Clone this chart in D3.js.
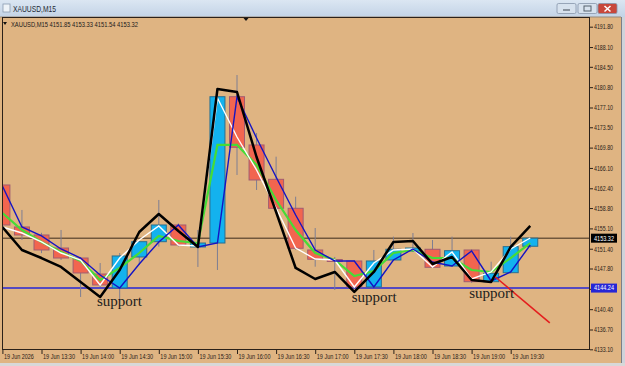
<!DOCTYPE html>
<html>
<head>
<meta charset="utf-8">
<script src="https://cdn.jsdelivr.net/npm/d3@7"></script>
<style>
  body { margin: 0; background: #cfd3da; }
  svg { display: block; }
  text { font-family: "Liberation Sans", Arial, sans-serif; }
  text.note { font-family: "Liberation Serif", "DejaVu Serif", serif; }
</style>
</head>
<body>
<svg id="chart" width="625" height="366"></svg>
<script>
// 15 minute bars, 19 Jun 2026
const times = ["13:00","13:15","13:30","13:45","14:00","14:15","14:30","14:45","15:00","15:15",
  "15:30","15:45","16:00","16:15","16:30","16:45","17:00","17:15","17:30","17:45",
  "18:00","18:15","18:30","18:45","19:00","19:15","19:30","19:45"];

const opens  = [4163.0, 4155.36, 4153.9, 4151.53, 4149.71, 4146.8, 4144.26, 4149.9, 4152.68, 4155.72,
  4151.72, 4152.44, 4179.06, 4170.28, 4164.03, 4158.76, 4151.17, 4149.44, 4149.17, 4144.44,
  4149.35, 4150.99, 4151.3, 4148.26, 4151.17, 4145.4, 4147.04, 4151.85];
const highs  = [4163.3, 4158.45, 4154.3, 4154.81, 4149.9, 4148.8, 4150.62, 4152.8, 4160.27, 4156.0,
  4154.81, 4179.3, 4183.01, 4172.46, 4168.15, 4160.87, 4155.17, 4149.9, 4149.3, 4151.17,
  4153.6, 4154.26, 4152.99, 4153.6, 4151.3, 4149.04, 4153.6, 4153.33];
const lows   = [4155.2, 4152.99, 4150.6, 4149.35, 4142.62, 4144.44, 4141.89, 4148.44, 4151.78, 4151.8,
  4148.08, 4147.53, 4164.82, 4162.09, 4158.5, 4151.2, 4148.13, 4143.89, 4144.2, 4144.3,
  4149.2, 4150.8, 4147.9, 4148.1, 4145.2, 4145.2, 4146.9, 4151.54];
const closes = [4155.72, 4153.9, 4151.17, 4149.71, 4146.99, 4144.8, 4150.08, 4152.68, 4155.72, 4152.08,
  4152.44, 4179.06, 4169.86, 4163.91, 4158.76, 4151.48, 4149.48, 4149.08, 4144.44, 4149.17,
  4151.3, 4151.53, 4148.02, 4151.04, 4145.4, 4146.93, 4151.78, 4153.32];

// indicator lines
const blackLine = [4155.36, 4151.17, 4149.71, 4148.08, 4145.35, 4142.62, 4147.53, 4154.45, 4157.72, 4154.63,
  4151.72, 4180.46, 4179.92, 4168.09, 4158.08, 4147.9, 4145.89, 4147.17, 4143.53, 4147.17,
  4152.63, 4152.81, 4148.62, 4149.9, 4145.71, 4145.35, 4151.72, 4155.54];
const blueLine = [4162.82, 4155.36, 4153.72, 4151.35, 4149.71, 4146.62, 4144.26, 4148.62, 4152.63, 4155.72,
  4151.72, 4152.44, 4179.01, 4171.55, 4164.45, 4157.54, 4151.17, 4149.17, 4149.17, 4144.44,
  4149.35, 4151.35, 4148.99, 4148.26, 4150.99, 4145.53, 4147.17, 4152.08];
const whiteLine = [4155.36, 4154.26, 4152.63, 4150.62, 4149.35, 4144.8, 4149.71, 4152.99, 4155.54, 4152.08,
  4151.9, 4178.83, 4171.73, 4165.73, 4158.81, 4151.53, 4149.53, 4149.35, 4144.44, 4148.8,
  4151.17, 4151.35, 4148.08, 4150.81, 4145.89, 4147.17, 4151.35, 4153.35];
const greenLine = [4157.9, 4154.81, 4152.63, 4150.81, 4149.17, 4145.71, 4147.9, 4150.62, 4153.72, 4152.81,
  4152.44, 4170.28, 4170.28, 4166.64, 4160.27, 4154.81, 4150.62, 4149.35, 4146.44, 4147.35,
  4150.62, 4151.17, 4149.71, 4149.71, 4147.53, 4147.17, 4149.71, 4152.44];

const priceTicks = [4191.80, 4188.10, 4184.50, 4180.80, 4177.10, 4173.50, 4169.80, 4166.10, 4162.40,
  4158.80, 4155.10, 4151.40, 4147.80, 4144.10, 4140.40, 4136.70, 4133.10];
const labelBars = [0, 2, 4, 6, 8, 10, 12, 14, 16, 18, 20, 22, 24, 26];
const labelTexts = ["19 Jun 2026", "19 Jun 13:30", "19 Jun 14:00", "19 Jun 14:30", "19 Jun 15:00",
  "19 Jun 15:30", "19 Jun 16:00", "19 Jun 16:30", "19 Jun 17:00", "19 Jun 17:30", "19 Jun 18:00",
  "19 Jun 18:30", "19 Jun 19:00", "19 Jun 19:30"];

const bidPrice = 4153.32;
const supportLevel = 4144.24;
const trendBars = [25.2, 28.0];
const trendPrices = [4146.3, 4137.9];
const supportBars = [4.84, 17.87, 23.88];
const supportPrices = [4140.89, 4141.62, 4142.35];

const W = 625, H = 366;
const plot = { left: 2, right: 590, top: 18, bottom: 350 };
const svg = d3.select("#chart");

const x = d3.scaleLinear().domain([0, times.length - 1]).range([2.4, 2.4 + 19.55 * (times.length - 1)]);
const y = d3.scaleLinear().domain([4133.10, 4191.80]).range([349.3, 26.7]);
const bodyW = 15;

// window frame
svg.append("rect").attr("width", W).attr("height", H).attr("fill", "#cfd3da");
const grad = svg.append("defs").append("linearGradient").attr("id", "tb").attr("x1", 0).attr("x2", 0).attr("y1", 0).attr("y2", 1);
grad.append("stop").attr("offset", "0%").attr("stop-color", "#dbe6f2");
grad.append("stop").attr("offset", "100%").attr("stop-color", "#c3d3e6");
svg.append("rect").attr("width", W).attr("height", 17).attr("fill", "url(#tb)");
svg.append("rect").attr("x", 3).attr("y", 4).attr("width", 7).attr("height", 8)
  .attr("fill", "#eef3f8").attr("stroke", "#8a9bb0").attr("stroke-width", 0.8);
svg.append("text").attr("x", 13).attr("y", 12).attr("font-size", 8.5).attr("fill", "#1e2a36")
  .attr("textLength", 43).attr("lengthAdjust", "spacingAndGlyphs").text("XAUUSD,M15");

// title bar buttons
[[557, "#d7e2ee"], [578, "#d7e2ee"], [598, "#c8473b"]].forEach(([bx, c]) => {
  svg.append("rect").attr("x", bx).attr("y", 3.5).attr("width", 19).attr("height", 10).attr("rx", 1.5)
    .attr("fill", c).attr("stroke", "#8696aa").attr("stroke-width", 0.8);
});
svg.append("line").attr("x1", 563).attr("x2", 570).attr("y1", 10).attr("y2", 10).attr("stroke", "#55606c").attr("stroke-width", 1.2);
svg.append("rect").attr("x", 584).attr("y", 6).attr("width", 7).attr("height", 5).attr("fill", "none").attr("stroke", "#55606c").attr("stroke-width", 1);
svg.append("path").attr("d", "M604.5,6 L610.5,11.5 M610.5,6 L604.5,11.5").attr("stroke", "#fff").attr("stroke-width", 1.5);

// chart background
svg.append("rect").attr("x", 0).attr("y", 17).attr("width", 621).attr("height", 346).attr("fill", "#dfb482");
svg.append("line").attr("x1", 0).attr("x2", 621).attr("y1", 17).attr("y2", 17).attr("stroke", "#9a8a78");
svg.append("line").attr("x1", 621.5).attr("x2", 621.5).attr("y1", 17).attr("y2", 363).attr("stroke", "#7a7f88");

svg.append("defs").append("clipPath").attr("id", "clip").append("rect")
  .attr("x", plot.left).attr("y", plot.top).attr("width", plot.right - plot.left).attr("height", plot.bottom - plot.top);
const g = svg.append("g").attr("clip-path", "url(#clip)");

// horizontal levels
g.append("line").attr("x1", plot.left).attr("x2", plot.right).attr("y1", y(bidPrice)).attr("y2", y(bidPrice))
  .attr("stroke", "#3b2a1c").attr("stroke-width", 1);
g.append("line").attr("x1", plot.left).attr("x2", plot.right).attr("y1", y(supportLevel)).attr("y2", y(supportLevel))
  .attr("stroke", "#2626d6").attr("stroke-width", 1.5);

// candles
const bars = d3.range(times.length);
g.selectAll(".wick").data(bars).join("line").attr("class", "wick")
  .attr("x1", i => x(i)).attr("x2", i => x(i))
  .attr("y1", i => y(highs[i])).attr("y2", i => y(lows[i]))
  .attr("stroke", "#7e7e92").attr("stroke-width", 1);
g.selectAll(".body").data(bars).join("rect").attr("class", "body")
  .attr("x", i => x(i) - bodyW / 2).attr("width", bodyW)
  .attr("y", i => y(Math.max(opens[i], closes[i])))
  .attr("height", i => Math.max(1, Math.abs(y(opens[i]) - y(closes[i]))))
  .attr("fill", i => closes[i] >= opens[i] ? "#13b2ee" : "#f2654f")
  .attr("stroke", i => closes[i] >= opens[i] ? "#2a6e8e" : "#a05c72")
  .attr("stroke-width", 1);

// indicator lines
const line = d3.line().x((d, i) => x(i)).y(d => y(d));
g.append("path").datum(greenLine).attr("d", line).attr("fill", "none").attr("stroke", "#46dc36").attr("stroke-width", 2.2);
g.append("path").datum(whiteLine).attr("d", line).attr("fill", "none").attr("stroke", "#ffffff").attr("stroke-width", 1.4);
g.append("path").datum(blueLine).attr("d", line).attr("fill", "none").attr("stroke", "#1414c4").attr("stroke-width", 1.4);
g.append("path").datum(blackLine).attr("d", line).attr("fill", "none").attr("stroke", "#000").attr("stroke-width", 2.5)
  .attr("stroke-linejoin", "round");

// red trend line
g.append("line").attr("x1", x(trendBars[0])).attr("y1", y(trendPrices[0]))
  .attr("x2", x(trendBars[1])).attr("y2", y(trendPrices[1]))
  .attr("stroke", "#e41e1e").attr("stroke-width", 1.5);

// support labels
supportBars.forEach((b, k) => {
  g.append("text").attr("class", "note").attr("x", x(b)).attr("y", y(supportPrices[k]))
    .attr("font-size", 15).attr("fill", "#1c1c1c").text("support");
});

// plot border
svg.append("rect").attr("x", plot.left + 0.5).attr("y", plot.top - 0.5).attr("width", plot.right - plot.left - 1)
  .attr("height", plot.bottom - plot.top).attr("fill", "none").attr("stroke", "#2b2119").attr("stroke-width", 1);

// header line
svg.append("path").attr("d", "M3,22 L7,22 L5,25 Z").attr("fill", "#111");
svg.append("path").attr("d", "M243.5,18 L248.5,18 L246,21 Z").attr("fill", "#111");
svg.append("text").attr("x", 11).attr("y", 26.5).attr("font-size", 7.5).attr("fill", "#1a1a1a")
  .attr("textLength", 127).attr("lengthAdjust", "spacingAndGlyphs")
  .text("XAUUSD,M15  4151.85 4153.33 4151.54 4153.32");

// price axis
const gy = svg.append("g").attr("transform", `translate(${plot.right},0)`)
  .call(d3.axisRight(y).tickValues(priceTicks).tickSize(3).tickPadding(1).tickFormat(d3.format(".2f")));
gy.select(".domain").remove();
gy.selectAll("line").attr("stroke", "#2b2119");
gy.selectAll("text").attr("font-size", 6.5).attr("fill", "#2a2118").attr("dy", "0.35em")
  .attr("font-family", null)
  .attr("textLength", 19).attr("lengthAdjust", "spacingAndGlyphs");

// price markers
[[bidPrice, "#000"], [supportLevel, "#2626d6"]].forEach(([p, c]) => {
  svg.append("rect").attr("x", 591).attr("y", y(p) - 4.5).attr("width", 26).attr("height", 9).attr("fill", c);
  svg.append("text").attr("x", 594).attr("y", y(p) + 2.4).attr("font-size", 6.5).attr("fill", "#fff")
    .attr("textLength", 20).attr("lengthAdjust", "spacingAndGlyphs").text(p.toFixed(2));
});

// time axis
const gx = svg.append("g").attr("transform", `translate(0,${plot.bottom})`)
  .call(d3.axisBottom(x).tickValues(labelBars).tickSize(4).tickFormat((d, i) => labelTexts[i]));
gx.select(".domain").remove();
gx.selectAll("line").attr("stroke", "#2b2119");
gx.selectAll("text").attr("text-anchor", "start").attr("x", 1).attr("y", 8.5).attr("dy", 0)
  .attr("font-size", 6.5).attr("fill", "#2a2118")
  .attr("textLength", (d, i) => i === 0 ? 30 : 32).attr("lengthAdjust", "spacingAndGlyphs");

// bottom strip
svg.append("rect").attr("x", 0).attr("y", 363).attr("width", W).attr("height", 3).attr("fill", "#d8d8d8");
</script>
</body>
</html>
